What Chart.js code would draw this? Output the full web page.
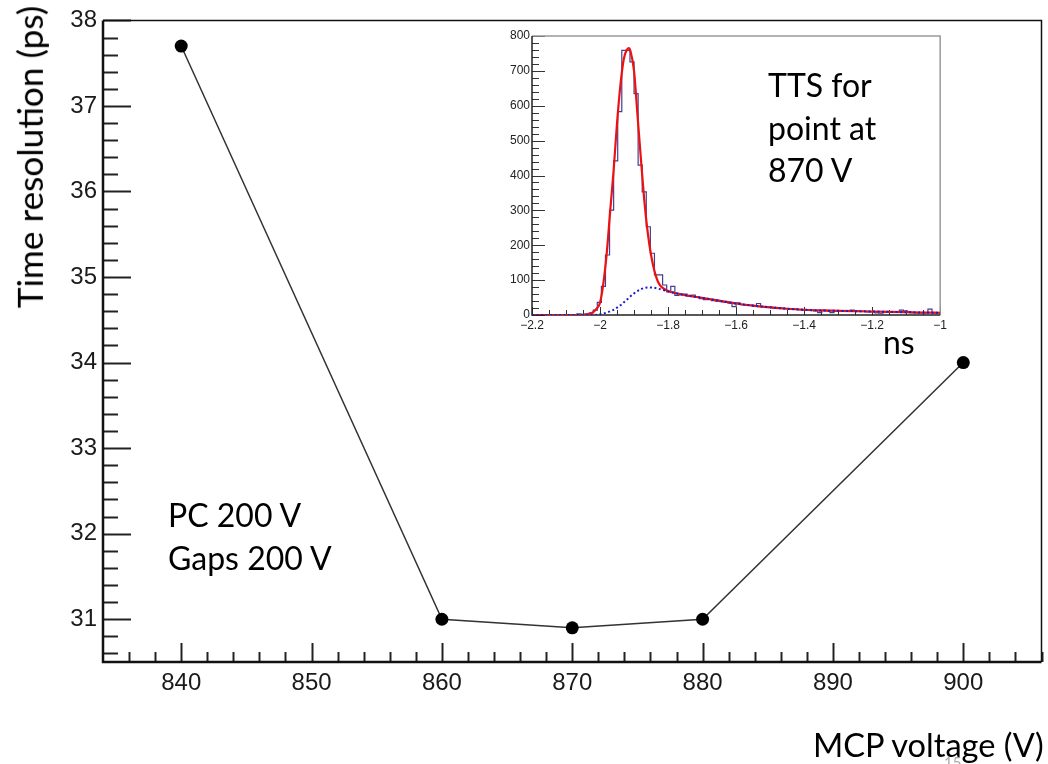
<!DOCTYPE html>
<html>
<head>
<meta charset="utf-8">
<script src="https://cdn.jsdelivr.net/npm/chart.js@4.4.1/dist/chart.umd.min.js"></script>
<style>
html,body{margin:0;padding:0;background:#fff;}
#wrap{position:relative;width:1048px;height:764px;overflow:hidden;background:#fff;}
#main{position:absolute;left:0;top:0;}
#insetBox{position:absolute;left:480px;top:20px;width:470px;height:312px;}
.txt{position:absolute;font-family:Lato,'Open Sans',sans-serif;color:#000;white-space:pre;}
</style>
</head>
<body>
<div id="wrap">
  <canvas id="main" width="1048" height="764"></canvas>
  <div id="insetBox"><canvas id="inset" width="470" height="312"></canvas></div>
  <div class="txt" style="left:944px;top:753px;font-size:15px;color:#aaa;">15</div>
  <div class="txt" style="left:29.4px;top:157px;font-size:35.2px;line-height:42.2px;transform:translate(-50%,-50%) rotate(-90deg);">Time resolution (ps)</div>
  <div class="txt" style="left:813px;top:724.6px;font-size:32.6px;line-height:39.1px;">MCP voltage (V)</div>
  <div class="txt" style="left:883px;top:323px;font-size:32px;line-height:38.4px;">ns</div>
  <div class="txt" style="left:768px;top:64px;font-size:32px;line-height:42.5px;">TTS for
point at
870 V</div>
  <div class="txt" style="left:168px;top:493px;font-size:32px;line-height:43px;">PC 200 V
Gaps 200 V</div>
</div>
<script>
// ---------- main chart data ----------
const voltages = [840, 860, 870, 880, 900];
const timeRes  = [37.7, 31.0, 30.9, 31.0, 34.0];
const xTicks = [840, 850, 860, 870, 880, 890, 900];
const yTicks = [31, 32, 33, 34, 35, 36, 37, 38];

// ---------- inset (TTS at 870 V) data ----------
const ttsBinMin = -2.2;
const ttsBinWidth = 0.012;
const ttsCounts = [
  0,0,0,0,0,0,0,0,0,0,
  0,3,2,3,6,14,36,82,172,301,
  442,583,759,759,726,635,430,353,253,177,
  115,115,86,66,82,56,58,60,55,57,
  52,47,44,45,41,40,38,36,34,24,
  35,30,28,28,25,33,24,23,22,20,
  21,19,18,17,17,15,14,15,13,12,
  7,13,12,7,11,11,10,12,14,11,
  10,10,9,9,6,5,8,8,9,8,
  14,12,8,7,6,6,6,17,6,6
];
const fitX = [-2.2,-2.1,-2.05,-2.04,-2.03,-2.02,-2.01,-2.0,-1.99,-1.98,
  -1.97,-1.96,-1.95,-1.94,-1.93,-1.92,-1.915,-1.91,-1.90,-1.89,
  -1.88,-1.87,-1.86,-1.85,-1.84,-1.83,-1.82,-1.81,-1.80,-1.78,
  -1.75,-1.70,-1.65,-1.60,-1.55,-1.50,-1.45,-1.40,-1.35,-1.30,
  -1.25,-1.20,-1.15,-1.10,-1.05,-1.00];
const fitY = [0,0,0,1,3,8,18,35,92,180,
  300,415,550,660,735,762,765,755,700,575,
  450,330,238,172,126,96,81,74,69,63,
  57,49,41,33,27,22,18,15,13,12,
  11,10,9,8,7,6.5];
const tailX = [-2.2,-2.02,-2.0,-1.98,-1.96,-1.94,-1.92,-1.90,-1.88,-1.86,
  -1.84,-1.82,-1.80,-1.78,-1.75,-1.70,-1.65,-1.60,-1.55,-1.50,
  -1.45,-1.40,-1.35,-1.30,-1.25,-1.20,-1.15,-1.10,-1.05,-1.00];
const tailY = [0,0,2,7,15,28,45,62,74,79,
  78,73,68,63,57,49,41,33,27,22,
  18,15,13,12,11,10,9,8,7,6.5];
const insetXTicks = [-2.2, -2.0, -1.8, -1.6, -1.4, -1.2, -1.0];
const insetYTicks = [0, 100, 200, 300, 400, 500, 600, 700, 800];

// ---------- main chart ----------
const mainFrame = {
  id: 'mainFrame',
  beforeDatasetsDraw(chart) {
    const ctx = chart.ctx, a = chart.chartArea, x = chart.scales.x, y = chart.scales.y;
    ctx.save();
    ctx.strokeStyle = '#222';
    ctx.lineWidth = 2;
    for (let v = 836; v <= 906; v += 2) {
      const px = Math.round(x.getPixelForValue(v)) + 0.5;
      const major = v % 10 === 0;
      ctx.beginPath();
      ctx.moveTo(px, a.bottom);
      ctx.lineTo(px, a.bottom - (major ? 19 : 10));
      ctx.stroke();
    }
    for (let i = 153; i <= 190; i++) {
      const v = i / 5;
      const py = Math.round(y.getPixelForValue(v)) + 0.5;
      const major = i % 5 === 0;
      ctx.beginPath();
      ctx.moveTo(a.left, py);
      ctx.lineTo(a.left + (major ? 28 : 15), py);
      ctx.stroke();
    }
    ctx.strokeStyle = '#111';
    ctx.lineWidth = 1.5;
    ctx.beginPath();
    ctx.moveTo(a.left, a.top); ctx.lineTo(a.right, a.top); ctx.lineTo(a.right, a.bottom);
    ctx.stroke();
    ctx.lineWidth = 2.5;
    ctx.beginPath();
    ctx.moveTo(a.left, a.top); ctx.lineTo(a.left, a.bottom); ctx.lineTo(a.right, a.bottom);
    ctx.stroke();
    ctx.restore();
  }
};

new Chart(document.getElementById('main'), {
  type: 'scatter',
  data: {
    datasets: [{
      data: voltages.map((v, i) => ({ x: v, y: timeRes[i] })),
      showLine: true,
      borderColor: '#333',
      borderWidth: 1.5,
      pointRadius: 6.5,
      pointBackgroundColor: '#000',
      pointBorderColor: '#000',
      pointBorderWidth: 0,
      tension: 0
    }]
  },
  options: {
    responsive: false,
    animation: false,
    devicePixelRatio: 1,
    layout: { padding: { left: 0, right: 2, top: 17, bottom: 0 } },
    plugins: { legend: { display: false }, tooltip: { enabled: false } },
    scales: {
      x: {
        type: 'linear', min: 834, max: 906,
        grid: { display: false, drawTicks: false },
        border: { display: false },
        afterBuildTicks: s => { s.ticks = xTicks.map(v => ({ value: v })); },
        afterFit: s => { s.height = 102; },
        ticks: { font: { family: 'Liberation Sans', size: 24 }, color: '#1a1a1a', padding: 7, maxRotation: 0, autoSkip: false }
      },
      y: {
        type: 'linear', min: 30.5, max: 38,
        grid: { display: false, drawTicks: false },
        border: { display: false },
        afterBuildTicks: s => { s.ticks = yTicks.map(v => ({ value: v })); },
        afterFit: s => { s.width = 103; },
        ticks: { font: { family: 'Liberation Sans', size: 24 }, color: '#1a1a1a', padding: 6, autoSkip: false }
      }
    }
  },
  plugins: [mainFrame]
});

// ---------- inset chart ----------
const insetFrame = {
  id: 'insetFrame',
  beforeDatasetsDraw(chart) {
    const ctx = chart.ctx, a = chart.chartArea, x = chart.scales.x, y = chart.scales.y;
    ctx.save();
    ctx.strokeStyle = '#333';
    ctx.lineWidth = 1;
    for (let i = 0; i <= 24; i++) {
      const v = -2.2 + i * 0.05;
      const px = Math.round(x.getPixelForValue(v)) + 0.5;
      const major = i % 4 === 0;
      ctx.beginPath();
      ctx.moveTo(px, a.bottom);
      ctx.lineTo(px, a.bottom - (major ? 8 : 5));
      ctx.stroke();
    }
    for (let i = 0; i <= 40; i++) {
      const v = i * 20;
      const py = Math.round(y.getPixelForValue(v)) + 0.5;
      const major = i % 5 === 0;
      ctx.beginPath();
      ctx.moveTo(a.left, py);
      ctx.lineTo(a.left + (major ? 13 : 7), py);
      ctx.stroke();
    }
    ctx.strokeStyle = '#999';
    ctx.lineWidth = 1.5;
    ctx.beginPath();
    ctx.moveTo(a.left, a.top); ctx.lineTo(a.right, a.top); ctx.lineTo(a.right, a.bottom);
    ctx.stroke();
    ctx.strokeStyle = '#222';
    ctx.lineWidth = 1.5;
    ctx.beginPath();
    ctx.moveTo(a.left, a.top); ctx.lineTo(a.left, a.bottom); ctx.lineTo(a.right, a.bottom);
    ctx.stroke();
    ctx.restore();
  }
};

const histPoints = ttsCounts.map((c, k) => ({ x: ttsBinMin + k * ttsBinWidth, y: c }));
histPoints.push({ x: ttsBinMin + ttsCounts.length * ttsBinWidth, y: ttsCounts[ttsCounts.length - 1] });

new Chart(document.getElementById('inset'), {
  type: 'scatter',
  data: {
    datasets: [
      {
        data: tailX.map((v, i) => ({ x: v, y: tailY[i] })),
        showLine: true, borderColor: '#1d1dc8', borderWidth: 2, borderDash: [2, 2.5],
        pointRadius: 0, cubicInterpolationMode: 'monotone'
      },
      {
        data: fitX.map((v, i) => ({ x: v, y: fitY[i] })),
        showLine: true, borderColor: '#ee1111', borderWidth: 2.2,
        pointRadius: 0, cubicInterpolationMode: 'monotone'
      },
      {
        data: histPoints,
        showLine: true, borderColor: '#3f3f96', borderWidth: 1.2,
        pointRadius: 0, stepped: true
      }
    ]
  },
  options: {
    responsive: false,
    animation: false,
    devicePixelRatio: 1,
    layout: { padding: { left: 0, right: 7, top: 16, bottom: 0 } },
    plugins: { legend: { display: false }, tooltip: { enabled: false } },
    scales: {
      x: {
        type: 'linear', min: -2.2, max: -1.0,
        grid: { display: false, drawTicks: false },
        border: { display: false },
        afterBuildTicks: s => { s.ticks = insetXTicks.map(v => ({ value: v })); },
        afterFit: s => { s.height = 17; },
        ticks: {
          font: { family: 'Liberation Sans', size: 12 }, color: '#222', padding: 3, maxRotation: 0, autoSkip: false,
          callback: v => (Math.round(v * 10) / 10).toString().replace('-', '\u2212')
        }
      },
      y: {
        type: 'linear', min: 0, max: 800,
        grid: { display: false, drawTicks: false },
        border: { display: false },
        afterBuildTicks: s => { s.ticks = insetYTicks.map(v => ({ value: v })); },
        afterFit: s => { s.width = 52; },
        ticks: { font: { family: 'Liberation Sans', size: 12 }, color: '#222', padding: 2, autoSkip: false }
      }
    }
  },
  plugins: [insetFrame]
});
</script>
</body>
</html>
